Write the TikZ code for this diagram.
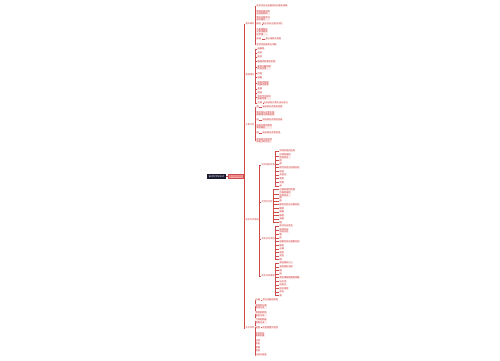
\documentclass[tikz,border=0pt]{standalone}
\usepackage{fontspec}
\newfontfamily\cjk{Noto Sans CJK SC}
\definecolor{linec}{RGB}{205,75,75}
\definecolor{rootc}{RGB}{28,28,48}
\definecolor{l1fill}{RGB}{246,168,168}
\definecolor{leafc}{RGB}{205,60,60}
\definecolor{leaffill}{RGB}{253,236,236}
\newcommand\tf{\cjk\fontsize{2.2}{2.6}\selectfont}
\begin{document}
\begin{tikzpicture}[x=1pt,y=-1pt,
  conn/.style={draw=linec,line width=0.35pt},
  rootn/.style={fill=rootc,text=white,font=\tf,inner xsep=1.4pt,inner ysep=1pt},
  topn/.style={fill=l1fill,draw=linec,line width=0.3pt,text=leafc,font=\tf,inner xsep=0.8pt,inner ysep=0.9pt},
  midn/.style={text=leafc,font=\tf,inner sep=0.4pt,anchor=west},
  leafn/.style={text=leafc,fill=leaffill,font=\tf,inner sep=0.4pt,anchor=west,align=left}]
\useasboundingbox (0,0) rectangle (500,360);
\fill[white] (0,0) rectangle (500,360);

\node[rootn] (r) at (216.5,176.5) {高中化学知识点};
\node[topn] (c) at (236,176.5) {重点知识归纳};
\draw[conn] (r.east) -- (c.west);
\coordinate (t) at (244,176.5);
\draw[conn] (c.east) -- (t);

% level 2
\node[midn] (A) at (245,24) {基本概念};
\node[midn] (B) at (245,75) {基础理论};
\node[midn] (C) at (245,125) {元素化合};
\node[midn] (D) at (245,220) {有机化学基础};
\node[midn] (E) at (245,328) {化学实验};
\foreach \n in {A,B,C,D,E} \draw[conn] (t) |- (\n.west);

% A leaves
\foreach \y/\s [count=\i] in {6/{化学反应与能量变化的基本规律},12.5/{物质的量浓度\\溶液的配制},18.5/{氧化还原反应\\基本概念},24/{概念},32/{元素周期表\\元素周期律\\化学键},39/{规律},44.5/{化学反应速率与平衡}}
  {\node[leafn] (a\i) at (256,\y) {\s}; \draw[conn] (A.east) |- (a\i.west);}
\node[leafn] (a4c) at (262,24) {离子反应方程式书写};
\draw[conn] (a4.east) -- (a4c.west);
\node[leafn] (a6c) at (265,39) {原子结构示意图};
\draw[conn] (a6.east) -- (a6c.west);

% B leaves
\foreach \y/\s [count=\i] in {49/{电解质},53/{溶液},57/{胶体},61.5/{酸碱中和滴定实验},67.5/{盐类水解规律\\及其应用},73.5/{沉淀},77.5/{溶解},83.5/{原电池原理\\电解池原理},89/{金属},93/{腐蚀},97.5/{热化学方程式\\盖斯定律},103/{计算}}
  {\node[leafn] (b\i) at (257,\y) {\s}; \draw[conn] (B.east) |- (b\i.west);}
\node[leafn] (b12c) at (263,103) {反应热的计算方法与技巧};
\draw[conn] (b12.east) -- (b12c.west);

% C leaves
\foreach \y/\s [count=\i] in {107/{钠},113.5/{氧化钠与过氧化钠\\碳酸钠与碳酸氢钠},120/{铝},126.5/{氢氧化铝的两性\\偏铝酸盐},133/{铁},140.5/{亚铁离子的检验\\铁离子的检验}}
  {\node[leafn] (k\i) at (256,\y) {\s}; \draw[conn] (C.east) |- (k\i.west);}
\node[leafn] (k1c) at (262,107) {钠及其化合物的性质};
\draw[conn] (k1.east) -- (k1c.west);
\node[leafn] (k3c) at (262,120) {铝及其化合物的性质};
\draw[conn] (k3.east) -- (k3c.west);
\node[leafn] (k5c) at (262,133) {铁及其化合物性质};
\draw[conn] (k5.east) -- (k5c.west);

% D sub-branches
\node[midn] (D1) at (261,165) {烃的结构性质};
\node[midn] (D2) at (261,202) {烃的衍生物};
\node[midn] (D3) at (261,239) {有机反应类型};
\node[midn] (D4) at (261,276) {有机合成推断};
\foreach \n in {D1,D2,D3,D4} \draw[conn] (D.east) |- (\n.west);

\foreach \y/\s [count=\i] in {151/{甲烷的结构性质},156/{乙烯的结构\\性质特点},160.5/{烷},164/{烯},167.5/{取代反应与加成反应},171.5/{炔烃},175/{芳香烃},178.5/{苯系},182.5/{甲苯},186/{卤}}
  {\node[leafn] (d1\i) at (279,\y) {\s}; \draw[conn] (D1.east) |- (d1\i.west);}
\foreach \y/\s [count=\i] in {189.5/{乙醇的结构性质},194/{乙酸的结构\\性质特点},198/{醇},201/{酚},204.5/{酯化反应与水解反应},208.5/{醛类},212/{羧酸},215.5/{酯类},219/{油脂},222.5/{糖}}
  {\node[leafn] (d2\i) at (279,\y) {\s}; \draw[conn] (D2.east) |- (d2\i.west);}
\foreach \y/\s [count=\i] in {226/{取代反应类型},230.5/{加成反应\\消去反应},234.5/{氧},238/{还},241.5/{加聚反应与缩聚反应},245.5/{酯化},249/{水解},252.5/{裂化},256/{显色},259.5/{燃}}
  {\node[leafn] (d3\i) at (279,\y) {\s}; \draw[conn] (D3.east) |- (d3\i.west);}
\foreach \y/\s [count=\i] in {263/{官能团的引入},267/{官能团的消除},270.5/{碳},274/{链},277.5/{有机推断题解题思路},281.5/{分子式},285/{结构式},288.5/{同分异构},292/{命名},295.5/{单}}
  {\node[leafn] (d4\i) at (279,\y) {\s}; \draw[conn] (D4.east) |- (d4\i.west);}

% E leaves
\foreach \y/\s [count=\i] in {300/{仪器},306.5/{物质的分离\\提纯方法},314/{物质的检验\\鉴别方法},321/{气体的制备\\收集方法},327.5/{装置},334.5/{实验安全\\事故处理},340.5/{过滤},344/{蒸发},347.5/{蒸馏},351/{萃取},355/{分液与结晶}}
  {\node[leafn] (e\i) at (255,\y) {\s}; \draw[conn] (E.east) |- (e\i.west);}
\node[leafn] (e1c) at (262,300) {常见仪器的使用};
\draw[conn] (e1.east) -- (e1c.west);
\node[leafn] (e5c) at (262,327.5) {实验装置气密性};
\draw[conn] (e5.east) -- (e5c.west);
\end{tikzpicture}
\end{document}
